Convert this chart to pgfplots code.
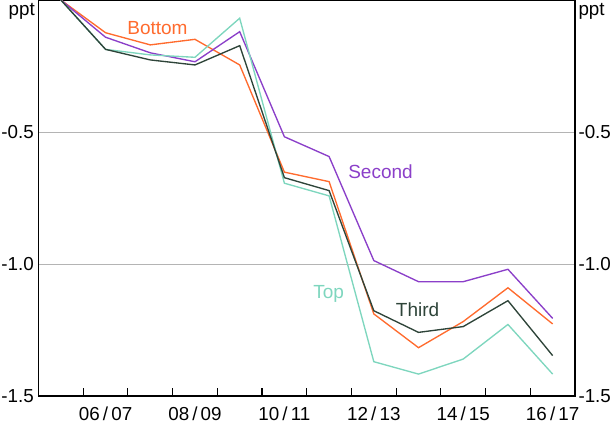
\documentclass[border=0pt]{standalone}
\usepackage{pgfplots}
\pgfplotsset{compat=1.18}
\usepackage{fontspec}
\setmainfont{Liberation Sans}
\definecolor{cbottom}{HTML}{FF6B2E}
\definecolor{csecond}{HTML}{8B3FC9}
\definecolor{cthird}{HTML}{2E4439}
\definecolor{ctop}{HTML}{7ED6BE}
\definecolor{cgrid}{HTML}{B4B4B4}
\begin{document}
\fontsize{18.5}{22}\selectfont
\begin{tikzpicture}
\pgfplotsset{
  common/.style={
    scale only axis, width=536.5pt, height=396pt,
    xmin=-0.5, xmax=11.5, ymin=-1.5, ymax=0,
    ytick={-1.5,-1.0,-0.5},
    yticklabels={-1.5,-1.0,-0.5},
    major tick length=0pt,
    /pgf/number format/assume math mode=true,
    tick label style={font=\fontsize{18.8}{22}\selectfont, inner sep=0pt},
    axis line style={line width=1.3pt},
  }
}
\begin{axis}[common,
  name=main,
  xtick={1,3,5,7,9,11},
  xticklabels={06\,/\,07,08\,/\,09,10\,/\,11,12\,/\,13,14\,/\,15,16\,/\,17},
  minor xtick={0.5,1.5,...,10.5},
  minor tick length=8.3pt,
  tick align=inside,
  xtick pos=bottom,
  xticklabel style={anchor=north, yshift=-11pt},
  every minor tick/.style={line width=1.1pt, black},
  yticklabel pos=left,
  yticklabel style={anchor=east, xshift=-4.5pt},
  ymajorgrids, grid style={cgrid, line width=0.9pt},
]
\addplot[cbottom, line width=1.35pt] coordinates {
(0,0) (1,-0.124) (2,-0.170) (3,-0.149) (4,-0.246) (5,-0.652)
(6,-0.688) (7,-1.189) (8,-1.317) (9,-1.218) (10,-1.090) (11,-1.227)};
\addplot[csecond, line width=1.35pt] coordinates {
(0,0) (1,-0.141) (2,-0.200) (3,-0.234) (4,-0.120) (5,-0.518)
(6,-0.593) (7,-0.987) (8,-1.067) (9,-1.067) (10,-1.020) (11,-1.206)};
\addplot[ctop, line width=1.35pt] coordinates {
(0,0) (1,-0.187) (2,-0.208) (3,-0.217) (4,-0.069) (5,-0.694)
(6,-0.742) (7,-1.370) (8,-1.417) (9,-1.360) (10,-1.229) (11,-1.417)};
\addplot[cthird, line width=1.35pt] coordinates {
(0,0) (1,-0.187) (2,-0.227) (3,-0.246) (4,-0.173) (5,-0.673)
(6,-0.722) (7,-1.177) (8,-1.259) (9,-1.237) (10,-1.139) (11,-1.347)};
\node[anchor=base, text=cbottom, inner sep=0pt, font=\fontsize{19}{22}\selectfont] at (axis cs:2.16,-0.129) {Bottom};
\node[anchor=base, text=csecond, inner sep=0pt, font=\fontsize{19}{22}\selectfont] at (axis cs:7.15,-0.678) {Second};
\node[anchor=base, text=ctop, inner sep=0pt, font=\fontsize{19}{22}\selectfont] at (axis cs:5.99,-1.129) {Top};
\node[anchor=base, text=cthird, inner sep=0pt, font=\fontsize{19}{22}\selectfont] at (axis cs:7.98,-1.197) {Third};
\end{axis}
\begin{axis}[common,
  axis x line=none,
  axis y line*=right,
  yticklabel pos=right,
  yticklabel style={anchor=west, xshift=3.3pt},
]
\end{axis}
\node[anchor=north east, inner sep=0pt, font=\fontsize{18.8}{22}\selectfont] at ([xshift=-3.5pt,yshift=-2.7pt]main.north west) {ppt};
\node[anchor=north west, inner sep=0pt, font=\fontsize{18.8}{22}\selectfont] at ([xshift=3.3pt,yshift=-2.7pt]main.north east) {ppt};
\pgfresetboundingbox
\path[use as bounding box] ([xshift=-38.5pt,yshift=-28pt]main.south west) rectangle ([xshift=38pt]main.north east);
\end{tikzpicture}
\end{document}
